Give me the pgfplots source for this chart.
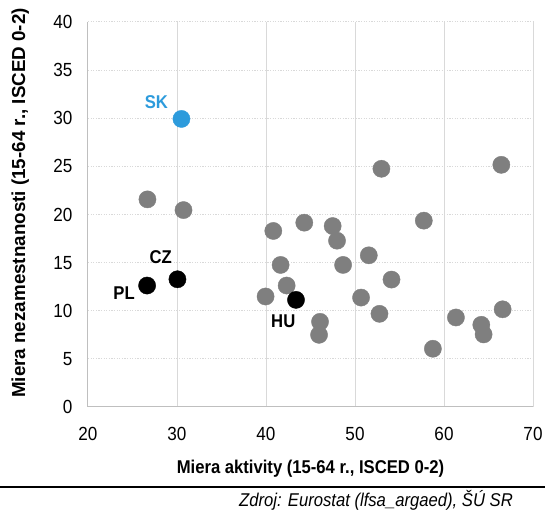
\documentclass[border=0pt]{standalone}
\usepackage{fontspec}
\setmainfont{Liberation Sans}[FakeStretch=0.9]
\newfontfamily\ylabfont{Liberation Sans}
\usepackage{pgfplots}
\pgfplotsset{compat=1.18}

\definecolor{skblue}{RGB}{45,155,220}
\definecolor{ptgray}{RGB}{127,127,127}
\definecolor{gridgray}{RGB}{217,217,217}
\definecolor{axisgray}{RGB}{191,191,191}

\begin{document}
\begin{tikzpicture}
\useasboundingbox (-88pt,-103pt) rectangle (457pt,407pt);
\begin{axis}[
  scale only axis, width=445pt, height=385pt,
  xmin=20, xmax=70, ymin=0, ymax=40,
  xtick={20,30,...,70}, ytick={0,5,...,40},
  axis lines=left,
  axis line style={-, draw=axisgray, line width=1pt},
  grid=major,
  x grid style={gridgray, line width=1pt},
  y grid style={gridgray, line width=1pt, dash pattern=on 1.2pt off 1.4pt},
  major tick length=0pt,
  /pgf/number format/assume math mode=true,
  tick label style={font=\fontsize{19}{22}\selectfont},
  xticklabel style={yshift=-17pt},
  yticklabel style={xshift=-12pt},
  xlabel={Miera aktivity (15-64 r., ISCED 0-2)},
  ylabel={Miera nezamestnanosti (15-64 r., ISCED 0-2)},
  xlabel style={font=\bfseries\fontsize{18.5}{22}\selectfont, at={(axis description cs:0.5,-0.16)}, anchor=center},
  ylabel style={font=\ylabfont\bfseries\fontsize{18.8}{22}\selectfont, at={(axis description cs:-0.152,0.53)}, anchor=center},
  clip=false,
]
% ostatne krajiny
\addplot[only marks, mark=*, mark size=8.6pt, ptgray, mark options={draw=none, fill=ptgray}] coordinates {
 (26.68,21.57) (30.73,20.46) (40.82,18.29) (44.30,19.15) (47.49,18.80)
 (47.98,17.28) (52.97,24.75) (66.44,25.16) (57.73,19.36) (51.55,15.76)
 (41.64,14.76) (48.66,14.76) (54.10,13.24) (42.32,12.62) (39.95,11.48)
 (50.68,11.37) (52.75,9.68) (46.07,8.85) (45.96,7.50) (61.34,9.30)
 (64.19,8.54) (64.45,7.54) (66.59,10.15) (58.75,6.05)
};
% V4
\addplot[only marks, mark=*, mark size=8.6pt, black, mark options={draw=none, fill=black}] coordinates {
 (26.64,12.62) (30.05,13.27) (43.37,11.13)
};
\addplot[only marks, mark=*, mark size=8.6pt, skblue, mark options={draw=none, fill=skblue}] coordinates {
 (30.5,29.93)
};
\node[font=\bfseries\fontsize{18.5}{22}\selectfont, text=skblue] at (axis cs:27.69,31.63) {SK};
\node[font=\bfseries\fontsize{18.5}{22}\selectfont] at (axis cs:24.05,11.82) {PL};
\node[font=\bfseries\fontsize{18.5}{22}\selectfont] at (axis cs:28.18,15.62) {CZ};
\node[font=\bfseries\fontsize{18.5}{22}\selectfont] at (axis cs:41.94,8.88) {HU};
\end{axis}
\draw[black, line width=2pt] (-88pt,-80pt) -- (457pt,-80pt);
\node[anchor=east, font=\itshape\fontsize{18.5}{22}\selectfont, inner sep=0pt] at (425pt,-93pt) {Zdroj: Eurostat (lfsa\_argaed), ŠÚ SR};
\end{tikzpicture}
\end{document}
